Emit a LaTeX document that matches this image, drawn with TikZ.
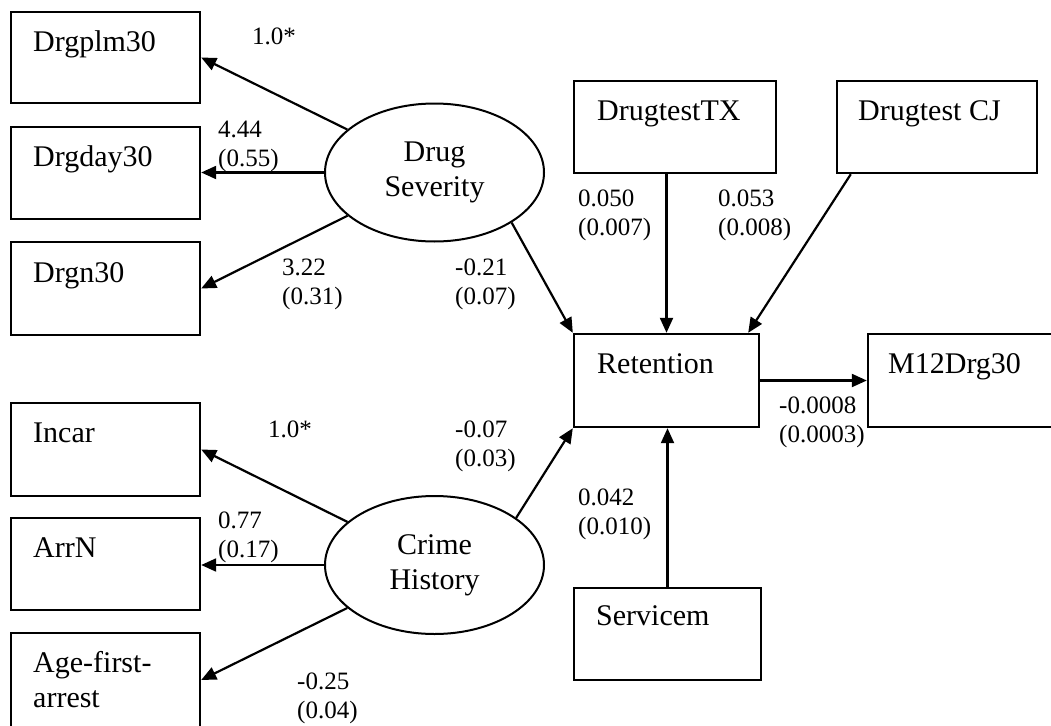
\documentclass[tikz,border=0pt]{standalone}
\usepackage{fontspec}
\setmainfont{Liberation Serif}
\usetikzlibrary{arrows.meta,calc,shapes.geometric}
\newcommand\mainsz{\fontsize{30}{35}\selectfont}
\newcommand\labsz{\fontsize{25}{29}\selectfont}
\begin{document}
\begin{tikzpicture}[x=1pt,y=-1pt,
  box/.style 2 args={draw,line width=2.4pt,rectangle,inner sep=0pt,minimum width=#1,minimum height=#2},
  ell/.style={draw,ellipse,line width=2pt,inner sep=0pt,minimum width=219pt,minimum height=138pt,align=center,font=\mainsz},
  txt/.style={anchor=base west,inner sep=0pt,font=\mainsz,align=left},
  lab/.style={anchor=base west,inner sep=0pt,font=\labsz,align=left},
  arr/.style={line width=2.2pt,-{Triangle[length=15pt,width=13pt]}}]
\useasboundingbox (0,0) rectangle (1051,725);
\fill[white] (0,0) rectangle (1051,725);
\clip (0,0) rectangle (1051,725);
% boxes
\node[box={189}{91}] (drgplm) at (105.5,57.5) {};
\node[box={189}{92}] (drgday) at (105.5,173) {};
\node[box={189}{93}] (drgn) at (105.5,288.5) {};
\node[box={189}{93}] (incar) at (105.5,449.5) {};
\node[box={189}{92}] (arrn) at (105.5,564) {};
\node[box={189}{94}] (age) at (105.5,680) {};
\node[box={202}{92}] (dtx) at (675,127) {};
\node[box={200}{92}] (cj) at (937,127) {};
\node[box={185}{93}] (ret) at (666.5,380.5) {};
\node[box={192}{93}] (m12) at (964,380.5) {};
\node[box={187}{92}] (srv) at (667.5,634) {};
% box texts
\node[txt] (tdrgplm) at (33,52) {Drgplm30};
\node[txt] (tdrgday) at (33,166) {Drgday30};
\node[txt] (tdrgn) at (33,282) {Drgn30};
\node[txt] (tincar) at (33,442) {Incar};
\node[txt] (tarrn) at (33,557) {ArrN};
\node[txt] (tage) at (33,707) {Age-first-\\arrest};
\node[txt] (tdtx) at (597,120) {DrugtestTX};
\node[txt] (tcj) at (858,120) {Drugtest CJ};
\node[txt] (tret) at (597,373) {Retention};
\node[txt] (tm12) at (888,373) {M12Drg30};
\node[txt] (tsrv) at (596,625) {Servicem};
% latent variables
\node[ell] (ds) at (434.5,172.5) {Drug\\Severity};
\node[ell] (ch) at (434.5,565) {Crime\\History};
% connectors
\draw[arr] (ds) -- (drgplm.east);
\draw[arr] (ds.west) -- (ds.west -| drgday.east);
\draw[arr] (ds) -- (drgn.east);
\draw[arr] (ds.-33) -- (ret.north west);
\draw[arr] (ch) -- (incar.east);
\draw[arr] (ch.west) -- (ch.west -| arrn.east);
\draw[arr] (ch) -- (age.east);
\draw[arr] (ch.30) -- (ret.south west);
\draw[arr] (dtx.south -| ret.north) -- (ret.north);
\draw[arr] ($(cj.south west)+(15,0)$) -- ($(ret.north east)+(-12,0)$);
\draw[arr] (srv.north) -- (srv.north |- ret.south);
\draw[arr] (ret.east) -- (m12.west);
% coefficient labels
\node[lab] (l1) at (252,45) {1.0*};
\node[lab] (l2) at (218,166) {4.44\\(0.55)};
\node[lab] (l3) at (282,304) {3.22\\(0.31)};
\node[lab] (l4) at (455,304) {-0.21\\(0.07)};
\node[lab] (l5) at (268,437) {1.0*};
\node[lab] (l6) at (455,466) {-0.07\\(0.03)};
\node[lab] (l7) at (218,557) {0.77\\(0.17)};
\node[lab] (l8) at (297,718) {-0.25\\(0.04)};
\node[lab] (l9) at (578,235) {0.050\\(0.007)};
\node[lab] (l10) at (718,235) {0.053\\(0.008)};
\node[lab] (l11) at (779,442) {-0.0008\\(0.0003)};
\node[lab] (l12) at (578,534) {0.042\\(0.010)};
\end{tikzpicture}
\end{document}
